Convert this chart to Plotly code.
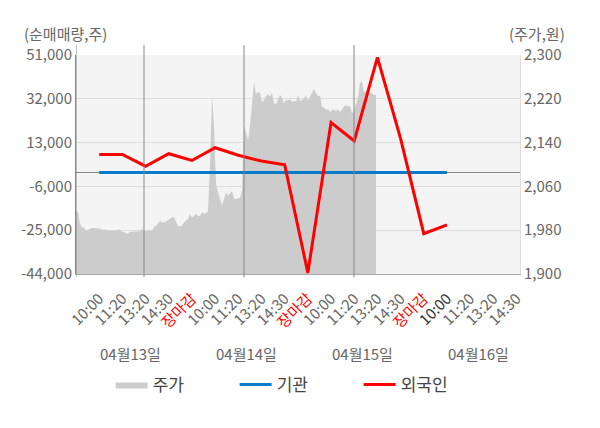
import plotly.graph_objects as go

# 주가 (intraday price, one reading every ~2px of the reference), split by day
price_d1 = [2015, 2012, 1992, 1985, 1985, 1979, 1981, 1983, 1984, 1984, 1984, 1984,
            1983, 1981, 1981, 1981, 1979, 1979, 1979, 1979, 1979, 1981, 1981, 1977,
            1977, 1974, 1974, 1977, 1977, 1977, 1977, 1978, 1978, 1982]
price_d2 = [1979, 1979, 1979, 1979, 1979, 1986, 1988, 1992, 1997, 1994, 1994, 1996,
            1998, 2001, 2004, 2003, 1996, 1987, 1987, 1988, 1994, 1998, 2001, 2010,
            2003, 2006, 2010, 2006, 2006, 2013, 2010, 2011, 2015, 2100, 2226, 2170,
            2065, 2050, 2036, 2025, 2037, 2049, 2043, 2047, 2051, 2038, 2037, 2039,
            2039, 2052]
price_d3 = [2170, 2160, 2144, 2171, 2215, 2250, 2228, 2233, 2230, 2214, 2218, 2225,
            2228, 2224, 2230, 2212, 2210, 2220, 2227, 2222, 2212, 2218, 2217, 2219,
            2214, 2216, 2215, 2227, 2217, 2218, 2221, 2226, 2217, 2224, 2230, 2238,
            2230, 2225, 2225, 2205, 2204, 2200, 2201, 2196, 2199, 2201, 2197, 2201,
            2196, 2202, 2206, 2208, 2206, 2207, 2193]
price_d4 = [2199, 2212, 2222, 2250, 2251, 2232, 2234, 2228, 2230, 2230, 2227, 2227]

days = ["04월13일", "04월14일", "04월15일", "04월16일"]
times = ["10:00", "11:20", "13:20", "14:30", "장마감"]

# 순매매량 per time slot (day1 10:00 ... day4 10:00)
institution = [0] * 16
foreign = [7860, 7860, 2760, 8170, 5250, 10780, 7500, 5000, 3400, -43500,
           21700, 13700, 50000, 14700, -26500, -22650]

vol_ticks = [-44000, -25000, -6000, 13000, 32000, 51000]
price_ticks = [1900, 1980, 2060, 2140, 2220, 2300]

price = price_d1 + price_d2 + price_d3 + price_d4
price_idx = list(range(len(price)))
starts = [0]
for d in (price_d1, price_d2, price_d3):
    starts.append(starts[-1] + len(d))

labels = []
for i, d in enumerate(days):
    slots = times if i < len(days) - 1 else times[:-1]
    labels += slots
ticktext = []
for i, t in enumerate(labels):
    if t == "장마감":
        ticktext.append('<span style="color:#ff0000">%s</span>' % t)
    elif i == len(foreign) - 1:
        ticktext.append('<span style="color:#333333">%s</span>' % t)
    else:
        ticktext.append(t)
slot_x = list(range(len(labels)))

FONT = "Noto Sans CJK KR"
GREY = "#666666"

fig = go.Figure()
fig.add_trace(go.Scatter(x=price_idx, y=price, name="주가", mode="lines",
                         fill="tozeroy", fillcolor="#cccccc",
                         line=dict(color="#cccccc", width=0),
                         xaxis="x", yaxis="y"))
fig.add_trace(go.Scatter(x=slot_x[:len(institution)], y=institution, name="기관",
                         mode="lines", line=dict(color="#0a7bc8", width=3),
                         xaxis="x2", yaxis="y2"))
fig.add_trace(go.Scatter(x=slot_x[:len(foreign)], y=foreign, name="외국인",
                         mode="lines", line=dict(color="#ff0000", width=3),
                         xaxis="x2", yaxis="y2"))

# day boundary lines of the price series
for s in starts:
    fig.add_shape(type="line", xref="x", yref="paper", x0=s, x1=s,
                  y0=-0.015, y1=1.045, line=dict(color="#888888", width=1),
                  layer="above")

for i, d in enumerate(days):
    fig.add_annotation(text=d, xref="x2", yref="paper", x=i * 5 + 1.35, y=-0.361,
                       xanchor="center", yanchor="middle",
                       showarrow=False, font=dict(size=15, color=GREY))

fig.add_annotation(text="(순매매량,주)", xref="paper", yref="paper", x=-0.122, y=1.1,
                   xanchor="left", yanchor="middle", showarrow=False,
                   font=dict(size=15, color=GREY))
fig.add_annotation(text="(주가,원)", xref="paper", yref="paper", x=1.106, y=1.1,
                   xanchor="right", yanchor="middle", showarrow=False,
                   font=dict(size=15, color=GREY))

# the page body adds 8px, so margins are shifted to keep the plot at 76..520 / 55..274
fig.update_layout(
    width=600, height=428,
    margin=dict(l=68, r=88, t=47, b=162),
    paper_bgcolor="white", plot_bgcolor="#f4f4f4",
    font=dict(family=FONT, color=GREY),
    showlegend=True,
    legend=dict(orientation="h", x=0.078, y=-0.507, xanchor="left", yanchor="middle",
                font=dict(size=17, color="#444444"), itemwidth=32,
                entrywidth=77),
    xaxis=dict(range=[0, 222], visible=False, showgrid=False, zeroline=False),
    yaxis=dict(side="right", range=[1900, 2300], tickmode="array",
               tickvals=price_ticks, ticktext=["{:,}".format(v) for v in price_ticks],
               showgrid=True, gridcolor="#dddddd", zeroline=False,
               showline=True, linecolor="#dddddd",
               tickfont=dict(size=15, color=GREY)),
    xaxis2=dict(overlaying="x", side="bottom", range=[-1, 18.15],
                tickmode="array", tickvals=slot_x, ticktext=ticktext,
                tickangle=-45, showgrid=False, zeroline=False,
                showline=True, linecolor="#aaaaaa", ticks="",
                ticklabelstandoff=9,
                tickfont=dict(size=15, color=GREY)),
    yaxis2=dict(overlaying="y", side="left", range=[-44000, 51000], tickmode="array",
                tickvals=vol_ticks, ticktext=["{:,}".format(v) for v in vol_ticks],
                showgrid=False, zeroline=True,
                zerolinecolor="#888888", zerolinewidth=1,
                showline=True, linecolor="#888888",
                tickfont=dict(size=15, color=GREY)),
)

fig.write_html("out.html")
